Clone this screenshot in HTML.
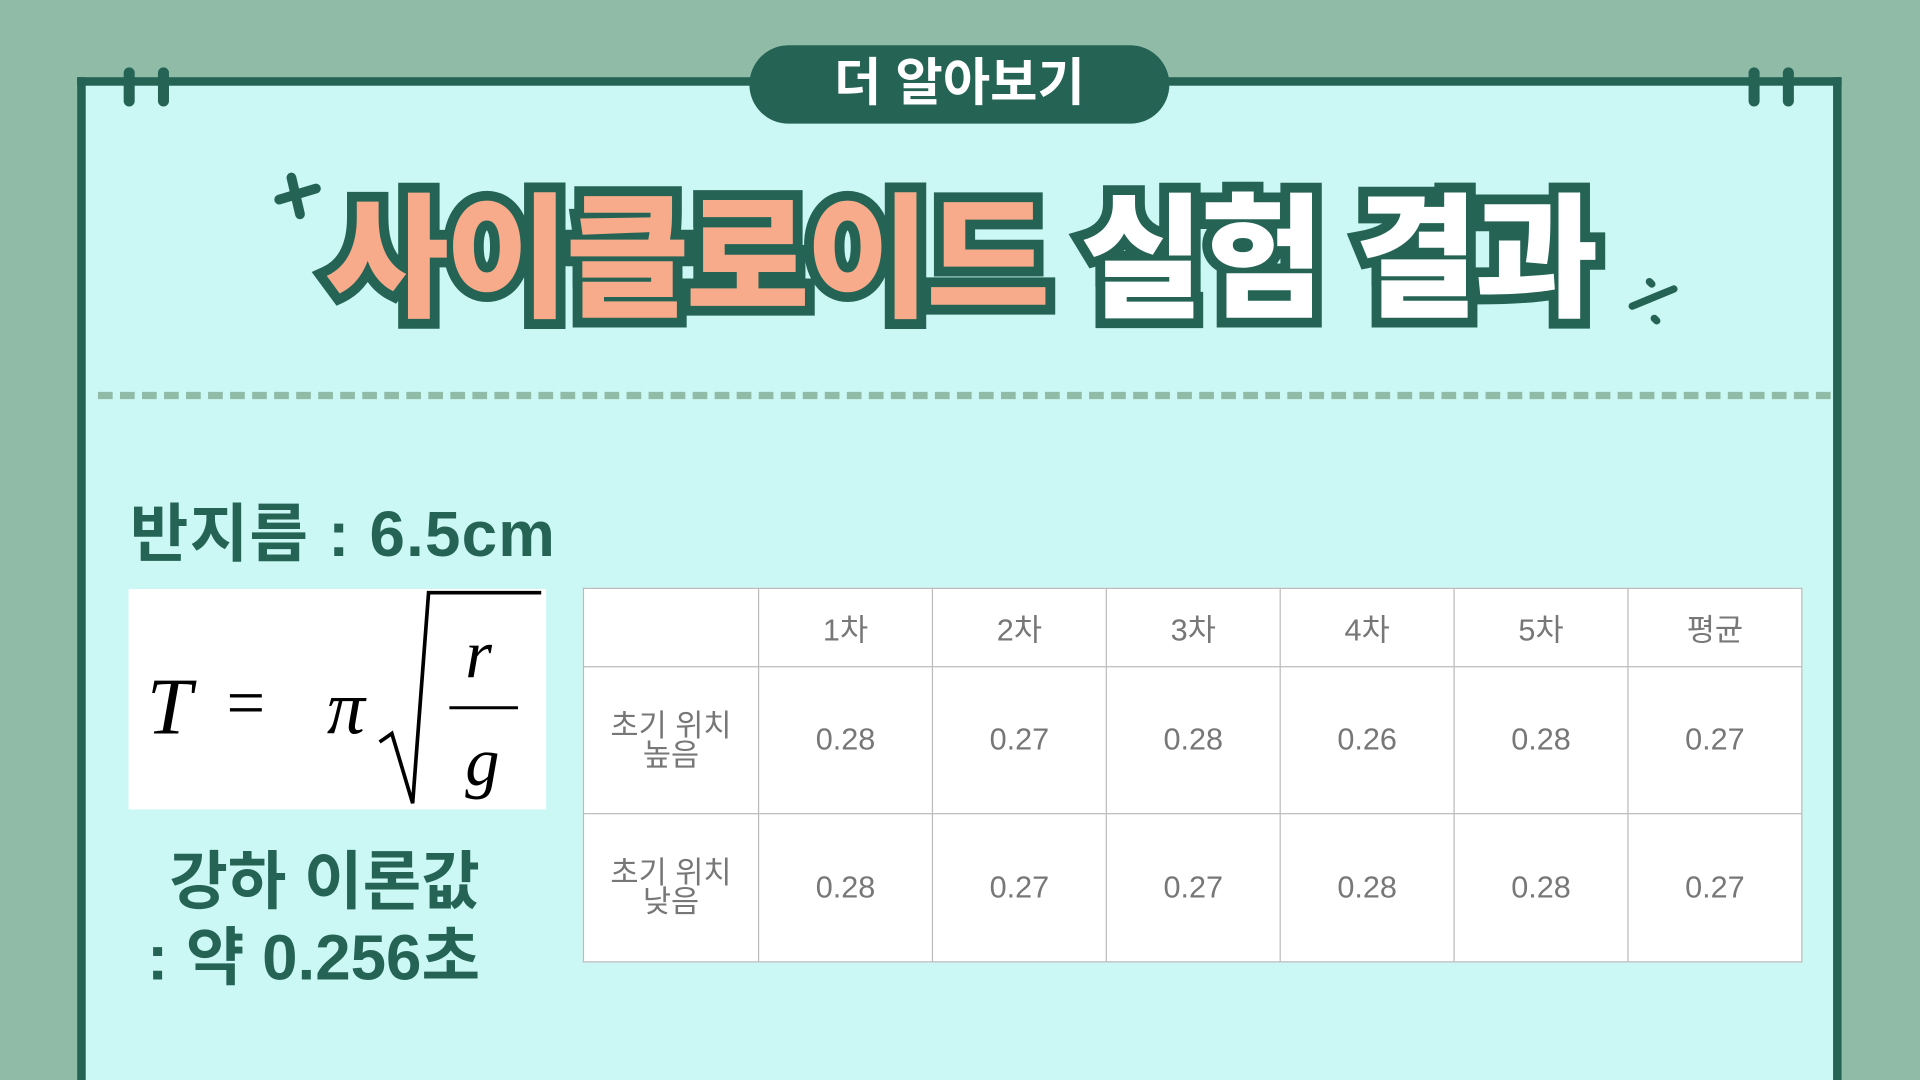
<!DOCTYPE html>
<html><head><meta charset="utf-8"><style>
html,body{margin:0;padding:0;width:1920px;height:1080px;overflow:hidden;background:#8fbba7}
#s{position:absolute;left:0;top:0;width:1568px;height:882px;overflow:hidden;transform:scale(1.22449);transform-origin:0 0;font-family:"Liberation Sans","Noto Sans CJK KR",sans-serif}
.abs{position:absolute}
#panel{left:63px;top:63px;width:1427px;height:812px;background:#cbf7f4;border:7px solid #256455;border-bottom:none}
.clip{width:9px;height:32px;background:#256455;border-radius:5px;top:55px}
#tab{left:612px;top:37px;width:343px;height:64px;background:#256455;border-radius:32px;color:#fff;font-size:42px;font-weight:700;text-align:center;line-height:62px}
#title{left:0;width:1568px;top:138px;text-align:center;font-size:110px;font-weight:900;letter-spacing:-3px;line-height:150px}
#title span{-webkit-text-stroke:16px #256455;paint-order:stroke fill;text-shadow:0 6px 0 #256455}
#dash{left:80px;top:320px;width:1415px;height:0;border-top:6px dashed #8fbba7}
.lbl{color:#256455;font-weight:700;font-size:52px}
table{border-collapse:collapse;position:absolute;left:476px;top:480px;width:996px;background:#fff;color:#777;font-size:25px}
td{border:1px solid #bbb;text-align:center;padding:0}
</style></head><body>
<div id="s">
<div id="panel" class="abs"></div>
<div class="abs clip" style="left:101px"></div>
<div class="abs clip" style="left:129px"></div>
<div class="abs clip" style="left:1428px"></div>
<div class="abs clip" style="left:1456px"></div>
<div id="tab" class="abs">더 알아보기</div>
<svg class="abs" style="left:220px;top:140px" width="50" height="50"><g stroke="#256455" stroke-width="8" stroke-linecap="round"><line x1="18" y1="5" x2="25" y2="35"/><line x1="8" y1="23" x2="38" y2="14"/></g></svg>
<svg class="abs" style="left:1325px;top:222px" width="50" height="50"><g stroke="#256455" stroke-width="6" stroke-linecap="round"><line x1="8" y1="28" x2="42" y2="14"/><line x1="22" y1="8" x2="24" y2="10"/><line x1="26" y1="38" x2="28" y2="40"/></g></svg>
<div id="title" class="abs"><span style="color:#f7ab8b">사이클로이드</span> <span style="color:#fff">실험 결과</span></div>
<div id="dash" class="abs"></div>
<div class="abs lbl" style="left:106px;top:394px;letter-spacing:1px">반지름 : 6.5cm</div>
<svg class="abs" style="left:105px;top:481px;background:#fff" width="341" height="180">
<text x="15" y="118" font-family="Liberation Serif,serif" font-style="italic" font-size="66">T</text>
<text x="80" y="112" font-family="Liberation Serif,serif" font-size="56">=</text>
<text x="162" y="118" font-family="Liberation Serif,serif" font-style="italic" font-size="62">π</text>
<polyline points="205,125 215,118 232,175 245,3 337,3" fill="none" stroke="#000" stroke-width="3"/>
<text x="275" y="72" font-family="Liberation Serif,serif" font-style="italic" font-size="56">r</text>
<line x1="262" y1="97" x2="318" y2="97" stroke="#000" stroke-width="2.5"/>
<text x="275" y="160" font-family="Liberation Serif,serif" font-style="italic" font-size="56">g</text>
</svg>
<div class="abs lbl" style="left:105px;width:320px;text-align:center;top:678px">강하 이론값</div>
<div class="abs lbl" style="left:120px;top:740px">: 약 0.256초</div>
<table>
<tr style="height:64px"><td style="width:142px"></td><td>1차</td><td>2차</td><td>3차</td><td>4차</td><td>5차</td><td>평균</td></tr>
<tr style="height:120px"><td style="line-height:24px">초기 위치<br>높음</td><td>0.28</td><td>0.27</td><td>0.28</td><td>0.26</td><td>0.28</td><td>0.27</td></tr>
<tr style="height:121px"><td style="line-height:24px">초기 위치<br>낮음</td><td>0.28</td><td>0.27</td><td>0.27</td><td>0.28</td><td>0.28</td><td>0.27</td></tr>
</table>
</div>
</body></html>
